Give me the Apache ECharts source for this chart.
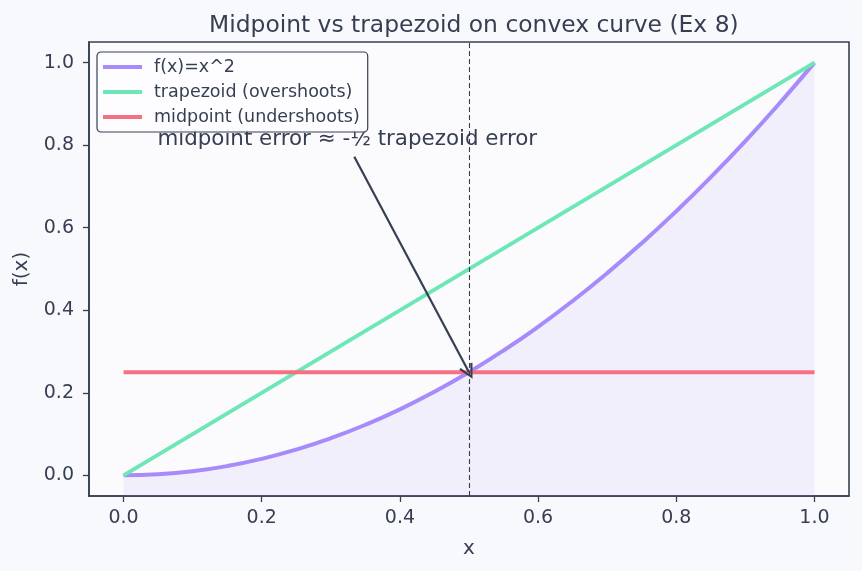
<!DOCTYPE html>
<html>
<head>
<meta charset="utf-8">
<script src="https://cdn.jsdelivr.net/npm/echarts@6/dist/echarts.min.js"></script>
<style>
  html, body { margin: 0; padding: 0; background: #f8f9fd; }
  #main { width: 862px; height: 571px; }
</style>
</head>
<body>
<div id="main"></div>
<script>
// values
var curveX = [0, 0.05, 0.1, 0.15, 0.2, 0.25, 0.3, 0.35, 0.4, 0.45, 0.5, 0.55, 0.6, 0.65, 0.7, 0.75, 0.8, 0.85, 0.9, 0.95, 1];
var curveY = [0, 0.0025, 0.01, 0.0225, 0.04, 0.0625, 0.09, 0.1225, 0.16, 0.2025, 0.25, 0.3025, 0.36, 0.4225, 0.49, 0.5625, 0.64, 0.7225, 0.81, 0.9025, 1];
var trapX = [0, 1];
var trapY = [0, 1];
var midX = [0, 1];
var midY = [0.25, 0.25];
var xTicks = [0, 0.2, 0.4, 0.6, 0.8, 1.0];
var yTicks = [0, 0.2, 0.4, 0.6, 0.8, 1.0];
var annoText = "midpoint error \u2248 -\u00bd trapezoid error";
var annoPos = [0.049, 0.813];
var arrowFrom = [0.334, 0.772];
var arrowTo = [0.5, 0.25];
var markX = 0.5;

var ink = "#363f52";
var font = "DejaVu Sans";

function pairs(xs, ys) {
    return xs.map(function(v, i) { return [v, ys[i]]; });
}

var chart = echarts.init(document.getElementById("main"));
var option = {
    backgroundColor: "#f8f9fd",
    animation: false,
    textStyle: { fontFamily: font, color: ink },
    title: {
        text: "Midpoint vs trapezoid on convex curve (Ex 8)",
        left: 204,
        top: 9,
        textStyle: { fontFamily: font, fontSize: 23.4, fontWeight: "normal", color: ink }
    },
    grid: {
        left: 89, right: 13, top: 42, bottom: 75,
        show: true,
        borderColor: ink,
        borderWidth: 1.6,
        backgroundColor: "#fbfbfe"
    },
    legend: {
        orient: "vertical",
        left: 97,
        top: 52,
        z: 10,
        itemWidth: 39,
        itemHeight: 4,
        itemGap: 7,
        icon: "rect",
        padding: [6, 8, 6, 6],
        backgroundColor: "rgba(253,253,255,0.92)",
        borderColor: ink,
        borderWidth: 1.2,
        borderRadius: 4,
        textStyle: { fontFamily: font, fontSize: 17.5, color: ink, padding: [0, 0, 0, 7] },
        data: ["f(x)=x^2", "trapezoid (overshoots)", "midpoint (undershoots)"]
    },
    xAxis: {
        type: "value",
        min: -0.05,
        max: 1.05,
        name: "x",
        nameLocation: "middle",
        nameGap: 43,
        nameTextStyle: { fontFamily: font, fontSize: 20, color: ink },
        splitLine: { show: false },
        axisLine: { show: true, onZero: false, lineStyle: { color: ink, width: 1.6 } },
        axisLabel: {
            fontFamily: font, fontSize: 19, color: ink, margin: 13,
            customValues: xTicks,
            formatter: function(v) { return v.toFixed(1); }
        },
        axisTick: { show: true, length: 6, customValues: xTicks, lineStyle: { color: ink, width: 1.3 } }
    },
    yAxis: {
        type: "value",
        min: -0.05,
        max: 1.05,
        name: "f(x)",
        nameLocation: "middle",
        nameGap: 57,
        nameTextStyle: { fontFamily: font, fontSize: 20, color: ink },
        splitLine: { show: false },
        axisLine: { show: true, onZero: false, lineStyle: { color: ink, width: 1.6 } },
        axisLabel: {
            fontFamily: font, fontSize: 19, color: ink, margin: 15,
            customValues: yTicks,
            formatter: function(v) { return v.toFixed(1); }
        },
        axisTick: { show: true, length: 6, customValues: yTicks, lineStyle: { color: ink, width: 1.3 } }
    },
    series: [
        {
            name: "f(x)=x^2",
            type: "line",
            data: pairs(curveX, curveY),
            smooth: true,
            showSymbol: false,
            color: "#a78bfa",
            lineStyle: { width: 4, color: "#a78bfa" },
            areaStyle: { color: "rgba(167,139,250,0.15)", origin: "start" },
            z: 2,
            markLine: {
                silent: true,
                symbol: "none",
                label: { show: false },
                lineStyle: { type: [5, 3], color: ink, width: 1.1 },
                data: [{ xAxis: markX }]
            }
        },
        {
            name: "trapezoid (overshoots)",
            type: "line",
            data: pairs(trapX, trapY),
            showSymbol: false,
            color: "#6ee7b7",
            lineStyle: { width: 4, color: "#6ee7b7" },
            z: 3
        },
        {
            name: "midpoint (undershoots)",
            type: "line",
            data: pairs(midX, midY),
            showSymbol: false,
            color: "#f47183",
            lineStyle: { width: 4, color: "#f47183" },
            z: 4
        },
        {
            name: "annotation",
            type: "scatter",
            data: [annoPos],
            symbolSize: 0,
            silent: true,
            z: 5,
            itemStyle: { opacity: 1 },
            label: {
                show: true,
                position: "right",
                distance: 0,
                formatter: annoText,
                fontFamily: font,
                fontSize: 21.4,
                color: ink
            },
            markLine: {
                silent: true,
                symbol: ["none", "path://M0,10 L5,0 L10,10 L8.6,10.6 L5,3 L1.4,10.6 Z"],
                symbolSize: [15, 15],
                label: { show: false },
                lineStyle: { type: "solid", color: ink, width: 2.2 },
                data: [[{ coord: arrowFrom }, { coord: arrowTo }]]
            }
        }
    ]
};
chart.setOption(option);
</script>
</body>
</html>
